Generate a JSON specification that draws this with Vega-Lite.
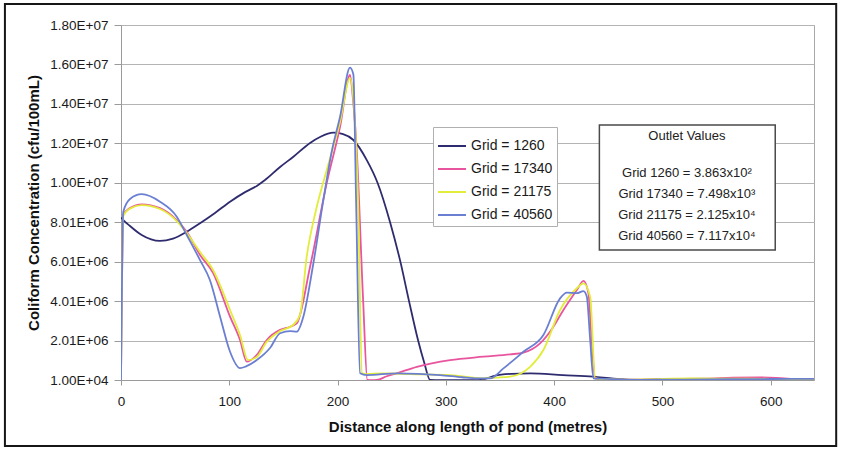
{
  "$schema": "https://vega.github.io/schema/vega-lite/v6.json",
  "width": 693,
  "height": 355,
  "autosize": {"type": "none"},
  "padding": {"left": 121, "top": 25, "right": 28, "bottom": 69},
  "background": "white",
  "config": {
    "font": "Liberation Sans",
    "view": {"stroke": "#a8a8a8", "strokeWidth": 1},
    "axis": {
      "labelFont": "Liberation Sans",
      "labelFontSize": 13.5,
      "labelColor": "#1a1a1a",
      "titleFont": "Liberation Sans",
      "titleFontSize": 15,
      "titleFontWeight": "bold",
      "titleColor": "#111111",
      "domainColor": "#9a9a9a",
      "tickColor": "#9a9a9a",
      "labelOverlap": false,
      "labelFlush": false
    }
  },
  "datasets": {
    "profiles": [
      {"grid": "Grid = 1260", "d": 0, "c": 8250000},
      {"grid": "Grid = 1260", "d": 2.1, "c": 8120000},
      {"grid": "Grid = 1260", "d": 8.3, "c": 7820000},
      {"grid": "Grid = 1260", "d": 19.1, "c": 7360000},
      {"grid": "Grid = 1260", "d": 36, "c": 7060000},
      {"grid": "Grid = 1260", "d": 48, "c": 7180000},
      {"grid": "Grid = 1260", "d": 60.7, "c": 7530000},
      {"grid": "Grid = 1260", "d": 73, "c": 7960000},
      {"grid": "Grid = 1260", "d": 86.8, "c": 8480000},
      {"grid": "Grid = 1260", "d": 100.7, "c": 9050000},
      {"grid": "Grid = 1260", "d": 115, "c": 9550000},
      {"grid": "Grid = 1260", "d": 125.4, "c": 9850000},
      {"grid": "Grid = 1260", "d": 133, "c": 10150000},
      {"grid": "Grid = 1260", "d": 146.9, "c": 10810000},
      {"grid": "Grid = 1260", "d": 159.2, "c": 11330000},
      {"grid": "Grid = 1260", "d": 174.6, "c": 12030000},
      {"grid": "Grid = 1260", "d": 183.8, "c": 12330000},
      {"grid": "Grid = 1260", "d": 196.1, "c": 12550000},
      {"grid": "Grid = 1260", "d": 205.1, "c": 12480000},
      {"grid": "Grid = 1260", "d": 214.6, "c": 12180000},
      {"grid": "Grid = 1260", "d": 227, "c": 11160000},
      {"grid": "Grid = 1260", "d": 237, "c": 10000000},
      {"grid": "Grid = 1260", "d": 248.5, "c": 8010000},
      {"grid": "Grid = 1260", "d": 258, "c": 6010000},
      {"grid": "Grid = 1260", "d": 266, "c": 4010000},
      {"grid": "Grid = 1260", "d": 274.4, "c": 2010000},
      {"grid": "Grid = 1260", "d": 280, "c": 900000},
      {"grid": "Grid = 1260", "d": 285.5, "c": 10000},
      {"grid": "Grid = 1260", "d": 295, "c": 1000},
      {"grid": "Grid = 1260", "d": 330, "c": 1000},
      {"grid": "Grid = 1260", "d": 337, "c": 80000},
      {"grid": "Grid = 1260", "d": 345, "c": 220000},
      {"grid": "Grid = 1260", "d": 360, "c": 320000},
      {"grid": "Grid = 1260", "d": 378, "c": 350000},
      {"grid": "Grid = 1260", "d": 408, "c": 260000},
      {"grid": "Grid = 1260", "d": 436, "c": 180000},
      {"grid": "Grid = 1260", "d": 455, "c": 80000},
      {"grid": "Grid = 1260", "d": 463, "c": 50000},
      {"grid": "Grid = 1260", "d": 475, "c": 5000},
      {"grid": "Grid = 1260", "d": 640, "c": 386.3},

      {"grid": "Grid = 17340", "d": 0, "c": 10000},
      {"grid": "Grid = 17340", "d": 2.1, "c": 8380000},
      {"grid": "Grid = 17340", "d": 8.3, "c": 8730000},
      {"grid": "Grid = 17340", "d": 19.1, "c": 8920000},
      {"grid": "Grid = 17340", "d": 36, "c": 8730000},
      {"grid": "Grid = 17340", "d": 51.5, "c": 8120000},
      {"grid": "Grid = 17340", "d": 60.7, "c": 7520000},
      {"grid": "Grid = 17340", "d": 73, "c": 6350000},
      {"grid": "Grid = 17340", "d": 85, "c": 5440000},
      {"grid": "Grid = 17340", "d": 100.7, "c": 3220000},
      {"grid": "Grid = 17340", "d": 109.9, "c": 2040000},
      {"grid": "Grid = 17340", "d": 116.1, "c": 940000},
      {"grid": "Grid = 17340", "d": 125.4, "c": 1280000},
      {"grid": "Grid = 17340", "d": 134.6, "c": 2040000},
      {"grid": "Grid = 17340", "d": 146.9, "c": 2550000},
      {"grid": "Grid = 17340", "d": 156.1, "c": 2710000},
      {"grid": "Grid = 17340", "d": 162.3, "c": 2880000},
      {"grid": "Grid = 17340", "d": 174.6, "c": 5750000},
      {"grid": "Grid = 17340", "d": 190, "c": 10000000},
      {"grid": "Grid = 17340", "d": 202.3, "c": 12850000},
      {"grid": "Grid = 17340", "d": 211.5, "c": 15480000},
      {"grid": "Grid = 17340", "d": 214.3, "c": 14210000},
      {"grid": "Grid = 17340", "d": 217.7, "c": 11670000},
      {"grid": "Grid = 17340", "d": 223.6, "c": 4070000},
      {"grid": "Grid = 17340", "d": 227.5, "c": 10000},
      {"grid": "Grid = 17340", "d": 232, "c": 1000},
      {"grid": "Grid = 17340", "d": 236.2, "c": 10000},
      {"grid": "Grid = 17340", "d": 245.5, "c": 200000},
      {"grid": "Grid = 17340", "d": 254.7, "c": 350000},
      {"grid": "Grid = 17340", "d": 273.2, "c": 680000},
      {"grid": "Grid = 17340", "d": 303.9, "c": 1020000},
      {"grid": "Grid = 17340", "d": 334.7, "c": 1190000},
      {"grid": "Grid = 17340", "d": 359.4, "c": 1310000},
      {"grid": "Grid = 17340", "d": 371.6, "c": 1400000},
      {"grid": "Grid = 17340", "d": 387, "c": 1870000},
      {"grid": "Grid = 17340", "d": 398, "c": 2600000},
      {"grid": "Grid = 17340", "d": 408.6, "c": 3560000},
      {"grid": "Grid = 17340", "d": 421, "c": 4570000},
      {"grid": "Grid = 17340", "d": 427.1, "c": 5040000},
      {"grid": "Grid = 17340", "d": 431.7, "c": 4410000},
      {"grid": "Grid = 17340", "d": 434.5, "c": 2200000},
      {"grid": "Grid = 17340", "d": 437.9, "c": 96000},
      {"grid": "Grid = 17340", "d": 445, "c": 40000},
      {"grid": "Grid = 17340", "d": 465, "c": 30000},
      {"grid": "Grid = 17340", "d": 500, "c": 60000},
      {"grid": "Grid = 17340", "d": 540, "c": 80000},
      {"grid": "Grid = 17340", "d": 565, "c": 130000},
      {"grid": "Grid = 17340", "d": 590, "c": 140000},
      {"grid": "Grid = 17340", "d": 605, "c": 120000},
      {"grid": "Grid = 17340", "d": 625, "c": 40000},
      {"grid": "Grid = 17340", "d": 640, "c": 7498},

      {"grid": "Grid = 21175", "d": 0, "c": 10000},
      {"grid": "Grid = 21175", "d": 2.1, "c": 8350000},
      {"grid": "Grid = 21175", "d": 8.3, "c": 8700000},
      {"grid": "Grid = 21175", "d": 19.1, "c": 8880000},
      {"grid": "Grid = 21175", "d": 36, "c": 8680000},
      {"grid": "Grid = 21175", "d": 51.5, "c": 8070000},
      {"grid": "Grid = 21175", "d": 60.7, "c": 7460000},
      {"grid": "Grid = 21175", "d": 73, "c": 6500000},
      {"grid": "Grid = 21175", "d": 85, "c": 5590000},
      {"grid": "Grid = 21175", "d": 100.7, "c": 3560000},
      {"grid": "Grid = 21175", "d": 109.9, "c": 2290000},
      {"grid": "Grid = 21175", "d": 117.3, "c": 1020000},
      {"grid": "Grid = 21175", "d": 125.4, "c": 1180000},
      {"grid": "Grid = 21175", "d": 134.6, "c": 1940000},
      {"grid": "Grid = 21175", "d": 146.9, "c": 2490000},
      {"grid": "Grid = 21175", "d": 158.9, "c": 2800000},
      {"grid": "Grid = 21175", "d": 165.3, "c": 3310000},
      {"grid": "Grid = 21175", "d": 171.5, "c": 6260000},
      {"grid": "Grid = 21175", "d": 180.1, "c": 8630000},
      {"grid": "Grid = 21175", "d": 190, "c": 10660000},
      {"grid": "Grid = 21175", "d": 202.3, "c": 13090000},
      {"grid": "Grid = 21175", "d": 211.5, "c": 15320000},
      {"grid": "Grid = 21175", "d": 214.3, "c": 14460000},
      {"grid": "Grid = 21175", "d": 218.9, "c": 9140000},
      {"grid": "Grid = 21175", "d": 222.6, "c": 360000},
      {"grid": "Grid = 21175", "d": 226.3, "c": 310000},
      {"grid": "Grid = 21175", "d": 242.3, "c": 350000},
      {"grid": "Grid = 21175", "d": 267, "c": 310000},
      {"grid": "Grid = 21175", "d": 303.9, "c": 260000},
      {"grid": "Grid = 21175", "d": 334.7, "c": 96000},
      {"grid": "Grid = 21175", "d": 347, "c": 130000},
      {"grid": "Grid = 21175", "d": 359.4, "c": 180000},
      {"grid": "Grid = 21175", "d": 377.8, "c": 680000},
      {"grid": "Grid = 21175", "d": 390.1, "c": 1530000},
      {"grid": "Grid = 21175", "d": 405.5, "c": 3560000},
      {"grid": "Grid = 21175", "d": 421, "c": 4660000},
      {"grid": "Grid = 21175", "d": 427.1, "c": 4910000},
      {"grid": "Grid = 21175", "d": 433.3, "c": 4230000},
      {"grid": "Grid = 21175", "d": 437.9, "c": 96000},
      {"grid": "Grid = 21175", "d": 443, "c": 60000},
      {"grid": "Grid = 21175", "d": 470, "c": 30000},
      {"grid": "Grid = 21175", "d": 500, "c": 70000},
      {"grid": "Grid = 21175", "d": 530, "c": 90000},
      {"grid": "Grid = 21175", "d": 560, "c": 80000},
      {"grid": "Grid = 21175", "d": 600, "c": 70000},
      {"grid": "Grid = 21175", "d": 640, "c": 21250},

      {"grid": "Grid = 40560", "d": 0, "c": 10000},
      {"grid": "Grid = 40560", "d": 2.1, "c": 8540000},
      {"grid": "Grid = 40560", "d": 8.3, "c": 9190000},
      {"grid": "Grid = 40560", "d": 19.1, "c": 9430000},
      {"grid": "Grid = 40560", "d": 36, "c": 9050000},
      {"grid": "Grid = 40560", "d": 51.5, "c": 8290000},
      {"grid": "Grid = 40560", "d": 60.7, "c": 7360000},
      {"grid": "Grid = 40560", "d": 73, "c": 6090000},
      {"grid": "Grid = 40560", "d": 82.1, "c": 5080000},
      {"grid": "Grid = 40560", "d": 91.5, "c": 3220000},
      {"grid": "Grid = 40560", "d": 100.7, "c": 1440000},
      {"grid": "Grid = 40560", "d": 109.9, "c": 610000},
      {"grid": "Grid = 40560", "d": 115.5, "c": 700000},
      {"grid": "Grid = 40560", "d": 125.4, "c": 1020000},
      {"grid": "Grid = 40560", "d": 137.6, "c": 1630000},
      {"grid": "Grid = 40560", "d": 146.9, "c": 2380000},
      {"grid": "Grid = 40560", "d": 156.1, "c": 2490000},
      {"grid": "Grid = 40560", "d": 162.3, "c": 2460000},
      {"grid": "Grid = 40560", "d": 168.4, "c": 3220000},
      {"grid": "Grid = 40560", "d": 177.4, "c": 5840000},
      {"grid": "Grid = 40560", "d": 186.9, "c": 9140000},
      {"grid": "Grid = 40560", "d": 194.9, "c": 11670000},
      {"grid": "Grid = 40560", "d": 202.3, "c": 13360000},
      {"grid": "Grid = 40560", "d": 211.5, "c": 15850000},
      {"grid": "Grid = 40560", "d": 214.6, "c": 15500000},
      {"grid": "Grid = 40560", "d": 217.1, "c": 9140000},
      {"grid": "Grid = 40560", "d": 220.8, "c": 350000},
      {"grid": "Grid = 40560", "d": 227, "c": 260000},
      {"grid": "Grid = 40560", "d": 254.7, "c": 350000},
      {"grid": "Grid = 40560", "d": 294.7, "c": 260000},
      {"grid": "Grid = 40560", "d": 315, "c": 150000},
      {"grid": "Grid = 40560", "d": 328.6, "c": 96000},
      {"grid": "Grid = 40560", "d": 340.9, "c": 96000},
      {"grid": "Grid = 40560", "d": 353.2, "c": 600000},
      {"grid": "Grid = 40560", "d": 371.6, "c": 1440000},
      {"grid": "Grid = 40560", "d": 390.1, "c": 2290000},
      {"grid": "Grid = 40560", "d": 405.5, "c": 4150000},
      {"grid": "Grid = 40560", "d": 411.7, "c": 4440000},
      {"grid": "Grid = 40560", "d": 421, "c": 4410000},
      {"grid": "Grid = 40560", "d": 427.1, "c": 4520000},
      {"grid": "Grid = 40560", "d": 430.2, "c": 4230000},
      {"grid": "Grid = 40560", "d": 433.3, "c": 2040000},
      {"grid": "Grid = 40560", "d": 436.3, "c": 96000},
      {"grid": "Grid = 40560", "d": 442, "c": 80000},
      {"grid": "Grid = 40560", "d": 460, "c": 40000},
      {"grid": "Grid = 40560", "d": 480, "c": 20000},
      {"grid": "Grid = 40560", "d": 520, "c": 30000},
      {"grid": "Grid = 40560", "d": 560, "c": 50000},
      {"grid": "Grid = 40560", "d": 600, "c": 60000},
      {"grid": "Grid = 40560", "d": 640, "c": 71170}
    ]
  },
  "layer": [
    {
      "data": {"values": [{}]},
      "mark": {"type": "rect", "clip": false, "fill": "white", "fillOpacity": 0, "stroke": "#161616", "strokeWidth": 2},
      "encoding": {
        "x": {"datum": -107.2, "type": "quantitative", "scale": {"domain": [0, 640], "nice": false, "zero": false},
          "axis": {"title": "Distance along length of pond (metres)", "values": [0, 100, 200, 300, 400, 500, 600], "grid": false, "tickSize": 5, "labelPadding": 9, "titlePadding": 12}},
        "x2": {"datum": 660.5},
        "y": {"datum": 19075000, "type": "quantitative", "scale": {"domain": [10000, 18010000], "nice": false, "zero": false},
          "axis": {"title": "Coliform Concentration (cfu/100mL)", "values": [10000, 2010000, 4010000, 6010000, 8010000, 10010000, 12010000, 14010000, 16010000, 18010000], "labelExpr": "replace(upper(format(datum.value, '.2e')), 'E+', 'E+0')", "grid": true, "gridColor": "#b4b4b4", "gridWidth": 1, "tickSize": 7, "labelPadding": 6, "titlePadding": 8}},
        "y2": {"datum": -3336000}
      }
    },
    {
      "data": {"name": "profiles"},
      "mark": {"type": "line", "strokeWidth": 1.8, "interpolate": "monotone", "clip": true},
      "encoding": {
        "x": {"field": "d", "type": "quantitative", "scale": {"domain": [0, 640], "nice": false, "zero": false},
          "axis": {"title": "Distance along length of pond (metres)", "values": [0, 100, 200, 300, 400, 500, 600], "grid": false, "tickSize": 5, "labelPadding": 9, "titlePadding": 12}},
        "y": {"field": "c", "type": "quantitative", "scale": {"domain": [10000, 18010000], "nice": false, "zero": false},
          "axis": {"title": "Coliform Concentration (cfu/100mL)", "values": [10000, 2010000, 4010000, 6010000, 8010000, 10010000, 12010000, 14010000, 16010000, 18010000], "labelExpr": "replace(upper(format(datum.value, '.2e')), 'E+', 'E+0')", "grid": true, "gridColor": "#b4b4b4", "gridWidth": 1, "tickSize": 7, "labelPadding": 6, "titlePadding": 8}},
        "color": {
          "field": "grid", "type": "nominal",
          "scale": {
            "domain": ["Grid = 1260", "Grid = 17340", "Grid = 21175", "Grid = 40560"],
            "range": ["#2e2b6e", "#e8559e", "#e2ec3a", "#6b7fd2"]
          },
          "legend": {
            "title": null,
            "orient": "none",
            "legendX": 312,
            "legendY": 102,
            "symbolType": "stroke",
            "symbolSize": 784,
            "symbolStrokeWidth": 2,
            "labelFontSize": 14,
            "labelColor": "#1a1a1a",
            "labelOffset": 4,
            "fillColor": "white",
            "strokeColor": "#b0b0b0",
            "padding": 4,
            "rowPadding": 1
          }
        }
      }
    },
    {
      "data": {"values": [{}]},
      "mark": {"type": "rect", "fill": "white", "stroke": "#4a4a4a", "strokeWidth": 1.5},
      "encoding": {
        "x": {"datum": 441.8, "type": "quantitative", "scale": {"domain": [0, 640], "nice": false, "zero": false},
          "axis": {"title": "Distance along length of pond (metres)", "values": [0, 100, 200, 300, 400, 500, 600], "grid": false, "tickSize": 5, "labelPadding": 9, "titlePadding": 12}},
        "x2": {"datum": 604.2},
        "y": {"datum": 12940000, "type": "quantitative", "scale": {"domain": [10000, 18010000], "nice": false, "zero": false},
          "axis": {"title": "Coliform Concentration (cfu/100mL)", "values": [10000, 2010000, 4010000, 6010000, 8010000, 10010000, 12010000, 14010000, 16010000, 18010000], "labelExpr": "replace(upper(format(datum.value, '.2e')), 'E+', 'E+0')", "grid": true, "gridColor": "#b4b4b4", "gridWidth": 1, "tickSize": 7, "labelPadding": 6, "titlePadding": 8}},
        "y2": {"datum": 6601000}
      }
    },
    {
      "data": {"values": [{}]},
      "mark": {"type": "text", "fontSize": 13, "color": "#222222", "align": "center", "baseline": "middle"},
      "encoding": {
        "x": {"datum": 522.6, "type": "quantitative", "scale": {"domain": [0, 640], "nice": false, "zero": false},
          "axis": {"title": "Distance along length of pond (metres)", "values": [0, 100, 200, 300, 400, 500, 600], "grid": false, "tickSize": 5, "labelPadding": 9, "titlePadding": 12}},
        "y": {"datum": 12382000, "type": "quantitative", "scale": {"domain": [10000, 18010000], "nice": false, "zero": false},
          "axis": {"title": "Coliform Concentration (cfu/100mL)", "values": [10000, 2010000, 4010000, 6010000, 8010000, 10010000, 12010000, 14010000, 16010000, 18010000], "labelExpr": "replace(upper(format(datum.value, '.2e')), 'E+', 'E+0')", "grid": true, "gridColor": "#b4b4b4", "gridWidth": 1, "tickSize": 7, "labelPadding": 6, "titlePadding": 8}},
        "text": {"value": "Outlet Values"}
      }
    },
    {
      "data": {"values": [{}]},
      "mark": {"type": "text", "fontSize": 13, "color": "#222222", "align": "center", "baseline": "middle", "lineHeight": 21},
      "encoding": {
        "x": {"datum": 522.6, "type": "quantitative", "scale": {"domain": [0, 640], "nice": false, "zero": false},
          "axis": {"title": "Distance along length of pond (metres)", "values": [0, 100, 200, 300, 400, 500, 600], "grid": false, "tickSize": 5, "labelPadding": 9, "titlePadding": 12}},
        "y": {"datum": 10490000, "type": "quantitative", "scale": {"domain": [10000, 18010000], "nice": false, "zero": false},
          "axis": {"title": "Coliform Concentration (cfu/100mL)", "values": [10000, 2010000, 4010000, 6010000, 8010000, 10010000, 12010000, 14010000, 16010000, 18010000], "labelExpr": "replace(upper(format(datum.value, '.2e')), 'E+', 'E+0')", "grid": true, "gridColor": "#b4b4b4", "gridWidth": 1, "tickSize": 7, "labelPadding": 6, "titlePadding": 8}},
        "text": {"value": ["Grid 1260 = 3.863x10²", "Grid 17340 = 7.498x10³", "Grid 21175 = 2.125x10⁴", "Grid 40560 = 7.117x10⁴"]}
      }
    }
  ]
}
